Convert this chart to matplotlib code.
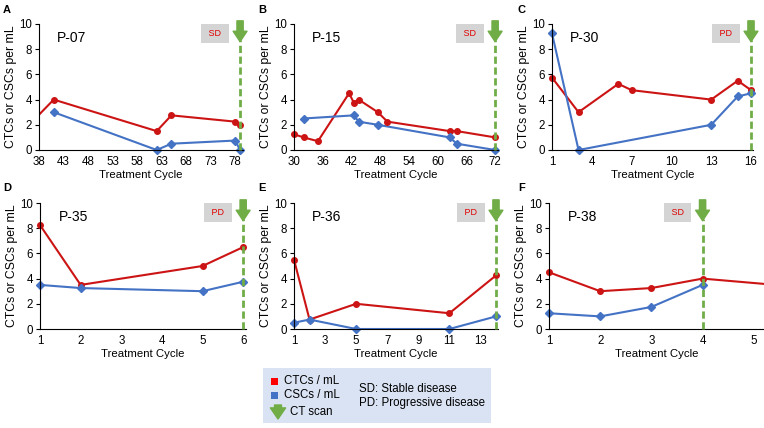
import numpy as np
import matplotlib
matplotlib.use("Agg")
import matplotlib.pyplot as plt
from matplotlib.patches import Rectangle

plt.rcParams['font.family'] = ['Liberation Sans', 'DejaVu Sans']

RED = '#CC1414'
BLUE = '#4472C4'
GREEN = '#70AD47'

# Panel data (treatment cycle, cells per mL)
names = ["P-07", "P-15", "P-30", "P-35", "P-36", "P-38"]
letters = ["A", "B", "C", "D", "E", "F"]
status = ["SD", "SD", "PD", "PD", "PD", "SD"]
ct_cycle = [79, 72, 16, 6, 14, 4]

ctc_x = [
    [37, 41, 62, 65, 78, 79],
    [30, 32, 35, 41.5, 42.5, 43.5, 47.5, 49.5, 62.5, 64, 72],
    [1, 3, 6, 7, 13, 15, 16],
    [1, 2, 5, 6],
    [1, 2, 5, 11, 14],
    [1, 2, 3, 4, 6],
]
ctc_y = [
    [2.4, 4.0, 1.5, 2.75, 2.25, 2.0],
    [1.25, 1.0, 0.7, 4.5, 3.75, 4.0, 3.0, 2.25, 1.5, 1.5, 1.0],
    [5.75, 3.0, 5.25, 4.75, 4.0, 5.5, 4.75],
    [8.25, 3.5, 5.0, 6.5],
    [5.5, 0.75, 2.0, 1.25, 4.25],
    [4.5, 3.0, 3.25, 4.0, 3.3],
]
csc_x = [
    [41, 62, 65, 78, 79],
    [32, 42.5, 43.5, 47.5, 62.5, 64, 72],
    [1, 3, 13, 15, 16],
    [1, 2, 5, 6],
    [1, 2, 5, 11, 14],
    [1, 2, 3, 4],
]
csc_y = [
    [3.0, 0.0, 0.5, 0.75, 0.0],
    [2.5, 2.75, 2.25, 2.0, 1.0, 0.5, 0.0],
    [9.25, 0.0, 2.0, 4.25, 4.5],
    [3.5, 3.25, 3.0, 3.75],
    [0.5, 0.75, 0.0, 0.0, 1.0],
    [1.25, 1.0, 1.75, 3.5],
]
x_ticks = [
    list(range(38, 79, 5)),
    list(range(30, 73, 6)),
    list(range(1, 17, 3)),
    list(range(1, 7)),
    list(range(1, 14, 2)),
    list(range(1, 6)),
]
x_lims = [(38, 79.6), (30, 72.6), (1, 16.15), (1, 6.07), (1, 14.13), (1, 5.2)]

W, H = 764, 428
# axes boxes in pixels: left, right, top, bottom
boxes = [(39, 243, 24, 150), (294, 498, 24, 150), (552, 753, 24, 150),
         (40, 246, 203, 329), (294, 498, 203, 329), (549, 764, 203, 329)]

fig = plt.figure(figsize=(W / 100, H / 100), dpi=100)

for i in range(6):
    l, r, t, b = boxes[i]
    ax = fig.add_axes([l / W, 1 - b / H, (r - l) / W, (b - t) / H])
    xmin, xmax = x_lims[i]

    for xs, ys, col, mk, ms in [(ctc_x[i], ctc_y[i], RED, 'o', 4),
                                (csc_x[i], csc_y[i], BLUE, 'D', 4.5)]:
        xs = np.array(xs, dtype=float)
        ys = np.array(ys, dtype=float)
        ax.plot(xs, ys, color=col, lw=1.5, zorder=2)
        inside = (xs >= xmin) & (xs <= xmax)
        ax.plot(xs[inside], ys[inside], ls='none', marker=mk, ms=ms,
                color=col, clip_on=False, zorder=2.5)

    # CT scan line and arrow
    ct = ct_cycle[i]
    ax.plot([ct, ct], [0, 8.7], color=GREEN, lw=2, dashes=(2.6, 1.3),
            clip_on=False, zorder=3)
    ax.annotate('', xy=(ct, 8.6), xytext=(ct, 10.25), annotation_clip=False,
                arrowprops=dict(arrowstyle='simple,head_length=0.75,head_width=1.0,tail_width=0.45',
                                color=GREEN, shrinkA=0, shrinkB=0), zorder=4)
    ax.annotate(' ' + status[i] + ' ', xy=(ct, 9.25), xytext=(-18, 0),
                textcoords='offset points', ha='center', va='center',
                fontsize=6.5, color='#E00000', annotation_clip=False,
                bbox=dict(boxstyle='square,pad=0.55', fc='#D4D4D4', ec='none'))

    ax.text(0.09, 0.89, names[i], transform=ax.transAxes, fontsize=10,
            ha='left', va='center')

    ax.set_xlim(xmin, xmax)
    ax.set_ylim(0, 10)
    ax.set_yticks([0, 2, 4, 6, 8, 10])
    ax.set_xticks(x_ticks[i])
    ax.tick_params(axis='y', length=3, width=0.8, labelsize=8.3, pad=2)
    ax.tick_params(axis='x', length=0, labelsize=8.3, pad=4)
    for s in ['top', 'right']:
        ax.spines[s].set_visible(False)
    for s in ['left', 'bottom']:
        ax.spines[s].set_linewidth(0.8)
        ax.spines[s].set_color('black')
    ax.set_xlabel('Treatment Cycle', fontsize=8.2, labelpad=2)
    ax.set_ylabel('CTCs or CSCs per mL', fontsize=8.8, labelpad=1.5)

    lx = [3, 258, 518][i % 3]
    ly = [10, 188][i // 3]
    fig.text(lx / W, 1 - ly / H, letters[i], fontsize=8, fontweight='bold',
             ha='left', va='center')

# Legend box
lw_, lh_ = 228, 55
lax = fig.add_axes([263 / W, 1 - 423 / H, lw_ / W, lh_ / H])
lax.set_xlim(0, lw_)
lax.set_ylim(lh_, 0)
lax.axis('off')
lax.add_patch(Rectangle((0, 0), lw_, lh_, fc='#DAE3F3', ec='none'))
lax.add_patch(Rectangle((8, 10), 7, 7, fc='#FF0000', ec='none'))
lax.add_patch(Rectangle((8, 24), 7, 7, fc=BLUE, ec='none'))
lax.text(21, 13.5, 'CTCs / mL', fontsize=8.3, va='center')
lax.text(21, 27.5, 'CSCs / mL', fontsize=8.3, va='center')
lax.annotate('', xy=(15, 51), xytext=(15, 37),
             arrowprops=dict(arrowstyle='simple,head_length=0.8,head_width=1.1,tail_width=0.5',
                             color=GREEN, shrinkA=0, shrinkB=0))
lax.text(27, 44, 'CT scan', fontsize=8.3, va='center')
lax.text(96, 21, 'SD: Stable disease', fontsize=8.3, va='center')
lax.text(96, 35, 'PD: Progressive disease', fontsize=8.3, va='center')

fig.savefig('out.png', dpi=100)
